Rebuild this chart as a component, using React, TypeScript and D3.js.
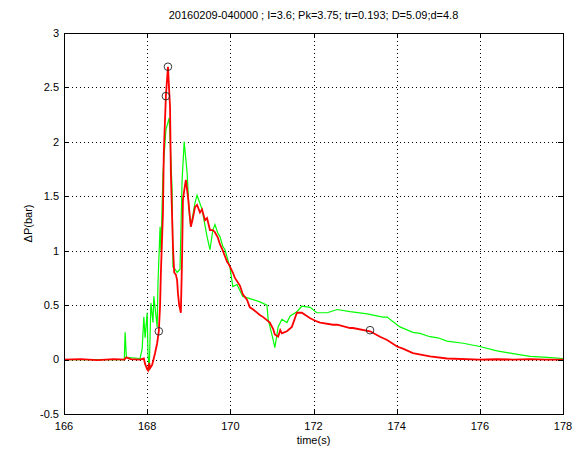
import { useEffect, useRef } from 'react';
import * as d3 from 'd3';

// time (s) and pressure difference (bar)
const greenTime = [
  166.0, 167.0, 167.45, 167.47, 167.5, 167.83, 167.88, 167.92, 167.95, 168.0, 168.02, 168.05,
  168.09, 168.14, 168.16, 168.24, 168.26, 168.31, 168.33, 168.38, 168.45, 168.53, 168.6, 168.62,
  168.67, 168.72, 168.79, 168.84, 168.89, 168.96, 169.01, 169.05, 169.15, 169.2, 169.32, 169.44,
  169.51, 169.58, 169.63, 169.7, 169.75, 169.82, 169.87, 169.99, 170.06, 170.16, 170.3, 170.47,
  170.71, 170.88, 170.91, 171.03, 171.07, 171.15, 171.24, 171.36, 171.44, 171.6, 171.72, 171.92,
  172.08, 172.33, 172.57, 172.88, 173.29, 173.67, 173.77, 174.08, 174.39, 174.56, 174.8, 174.99,
  175.21, 175.6, 176.0, 176.41, 176.8, 177.21, 177.62, 178.0,
];
const greenValue = [
  0, 0, 0, 0.25, 0.02, 0.01, 0.1, 0.39, 0.2, 0.43, 0.05, -0.1,
  0.52, 0.34, 0.58, 0.3, 0.7, 1.22, 1.0, 1.71, 2.11, 2.22, 1.56, 0.85,
  0.83, 0.8, 0.83, 1.65, 2.0, 1.72, 1.35, 1.22, 1.44, 1.51, 1.38, 1.13,
  1.01, 1.19, 1.24, 1.16, 1.13, 1.04, 1.01, 0.85, 0.67, 0.69, 0.58, 0.56,
  0.53, 0.5, 0.37, 0.18, 0.11, 0.3, 0.37, 0.34, 0.4, 0.44, 0.49, 0.48,
  0.43, 0.43, 0.46, 0.44, 0.42, 0.39, 0.39, 0.3, 0.25, 0.24, 0.21, 0.2,
  0.17, 0.15, 0.12, 0.08, 0.055, 0.03, 0.02, 0.01,
];

const redTime = [
  166.0, 166.4, 166.8, 167.2, 167.45, 167.5, 167.6, 167.83, 167.92, 167.95, 168.0, 168.02,
  168.05, 168.07, 168.12, 168.19, 168.24, 168.28, 168.31, 168.33, 168.38, 168.4, 168.45, 168.5,
  168.55, 168.57, 168.62, 168.65, 168.69, 168.72, 168.74, 168.77, 168.81, 168.84, 168.86, 168.89,
  168.93, 168.98, 169.05, 169.1, 169.15, 169.2, 169.27, 169.32, 169.39, 169.44, 169.51, 169.58,
  169.63, 169.7, 169.75, 169.82, 169.87, 169.92, 169.97, 170.06, 170.11, 170.23, 170.3, 170.4,
  170.47, 170.55, 170.71, 170.79, 170.95, 171.03, 171.07, 171.15, 171.2, 171.24, 171.36, 171.48,
  171.6, 171.72, 171.92, 172.08, 172.16, 172.47, 172.57, 172.88, 172.95, 173.36, 173.6, 173.77,
  174.01, 174.15, 174.39, 174.8, 175.21, 176.0, 176.4, 176.8, 177.2, 177.6, 178.0,
];
const redValue = [
  0, 0.005, -0.005, 0.005, 0, 0.02, 0.005, 0, 0.01, -0.04, -0.09, -0.1,
  -0.03, -0.08, -0.05, 0.06, 0.15, 0.26, 0.49, 0.8, 1.35, 1.9, 2.42, 2.69,
  2.32, 1.71, 1.04, 0.8, 0.78, 0.73, 0.61, 0.5, 0.43, 0.95, 1.47, 1.55,
  1.65, 1.5, 1.22, 1.3, 1.4, 1.42, 1.35, 1.38, 1.28, 1.3, 1.19, 1.19,
  1.17, 1.12, 1.06, 1.0, 0.95, 0.9, 0.87, 0.8, 0.75, 0.68, 0.6, 0.55,
  0.48, 0.46, 0.41, 0.39, 0.34, 0.28, 0.23, 0.21, 0.27, 0.24, 0.26, 0.3,
  0.43, 0.43, 0.38, 0.35, 0.34, 0.32, 0.32, 0.29, 0.29, 0.26, 0.21, 0.18,
  0.12, 0.1, 0.06, 0.03, 0.01, 0, 0.003, 0, 0.005, 0, 0,
];

// picked points drawn as open circles
const markerTime = [168.28, 168.45, 168.5, 173.36];
const markerValue = [0.26, 2.42, 2.69, 0.27];

const xTicks = [166, 168, 170, 172, 174, 176, 178];
const yTicks = [-0.5, 0, 0.5, 1, 1.5, 2, 2.5, 3];

const title = '20160209-040000 ; I=3.6; Pk=3.75; tr=0.193; D=5.09;d=4.8';

const App = () => {
  const ref = useRef<SVGSVGElement | null>(null);

  useEffect(() => {
    const svg = d3.select(ref.current);
    svg.selectAll('*').remove();

    const W = 579;
    const H = 450;
    const left = 64, right = 563, top = 33, bottom = 414;
    const font = 'Liberation Sans, Arial, sans-serif';

    svg.append('rect').attr('width', W).attr('height', H).attr('fill', '#fff');

    const x = d3.scaleLinear().domain([166, 178]).range([left, right]);
    const y = d3.scaleLinear().domain([-0.5, 3]).range([bottom, top]);

    const g = svg.append('g');

    // dotted grid
    g.selectAll('.gx')
      .data(xTicks.slice(1, -1))
      .enter()
      .append('line')
      .attr('x1', d => Math.round(x(d)) + 0.5)
      .attr('x2', d => Math.round(x(d)) + 0.5)
      .attr('y1', top)
      .attr('y2', bottom)
      .attr('stroke', '#000')
      .attr('stroke-dasharray', '1,3');
    g.selectAll('.gy')
      .data(yTicks.slice(1, -1))
      .enter()
      .append('line')
      .attr('x1', left)
      .attr('x2', right)
      .attr('y1', d => Math.round(y(d)) + 0.5)
      .attr('y2', d => Math.round(y(d)) + 0.5)
      .attr('stroke', '#000')
      .attr('stroke-dasharray', '1,3');

    const line = d3
      .line<[number, number]>()
      .x(d => x(d[0]))
      .y(d => y(d[1]));

    const greenData = greenTime.map((t, i) => [t, greenValue[i]] as [number, number]);
    const redData = redTime.map((t, i) => [t, redValue[i]] as [number, number]);

    g.append('path')
      .attr('d', line(greenData))
      .attr('fill', 'none')
      .attr('stroke', '#00ff00')
      .attr('stroke-width', 1.2);

    g.append('path')
      .attr('d', line(redData))
      .attr('fill', 'none')
      .attr('stroke', '#ff0000')
      .attr('stroke-width', 1.8);

    g.selectAll('.marker')
      .data(markerTime)
      .enter()
      .append('circle')
      .attr('cx', d => x(d))
      .attr('cy', (d, i) => y(markerValue[i]))
      .attr('r', 3.8)
      .attr('fill', 'none')
      .attr('stroke', '#222')
      .attr('stroke-width', 0.9);

    // box with inward ticks on all sides
    g.append('rect')
      .attr('x', left + 0.5)
      .attr('y', top + 0.5)
      .attr('width', right - left)
      .attr('height', bottom - top)
      .attr('fill', 'none')
      .attr('stroke', '#000');

    const tl = 5;
    xTicks.forEach(t => {
      const px = Math.round(x(t)) + 0.5;
      g.append('line').attr('x1', px).attr('x2', px).attr('y1', bottom).attr('y2', bottom - tl).attr('stroke', '#000');
      g.append('line').attr('x1', px).attr('x2', px).attr('y1', top).attr('y2', top + tl).attr('stroke', '#000');
    });
    yTicks.forEach(v => {
      const py = Math.round(y(v)) + 0.5;
      g.append('line').attr('x1', left).attr('x2', left + tl).attr('y1', py).attr('y2', py).attr('stroke', '#000');
      g.append('line').attr('x1', right).attr('x2', right - tl).attr('y1', py).attr('y2', py).attr('stroke', '#000');
    });

    g.selectAll('.xl')
      .data(xTicks)
      .enter()
      .append('text')
      .attr('x', d => x(d))
      .attr('y', bottom + 16)
      .attr('text-anchor', 'middle')
      .attr('font-family', font)
      .attr('font-size', 11)
      .attr('fill', '#000')
      .text(d => String(d));

    g.selectAll('.yl')
      .data(yTicks)
      .enter()
      .append('text')
      .attr('x', left - 5)
      .attr('y', d => y(d))
      .attr('dy', '0.35em')
      .attr('text-anchor', 'end')
      .attr('font-family', font)
      .attr('font-size', 11)
      .attr('fill', '#000')
      .text(d => String(d));

    svg.append('text')
      .attr('x', (left + right) / 2)
      .attr('y', 444)
      .attr('text-anchor', 'middle')
      .attr('font-family', font)
      .attr('font-size', 11)
      .attr('fill', '#000')
      .text('time(s)');

    svg.append('text')
      .attr('transform', `translate(32,${(top + bottom) / 2}) rotate(-90)`)
      .attr('text-anchor', 'middle')
      .attr('font-family', font)
      .attr('font-size', 11)
      .attr('fill', '#000')
      .text('\u0394P(bar)');

    svg.append('text')
      .attr('x', (left + right) / 2)
      .attr('y', 19)
      .attr('text-anchor', 'middle')
      .attr('font-family', font)
      .attr('font-size', 11)
      .attr('fill', '#000')
      .text(title);
  }, []);

  return (
    <svg
      ref={ref}
      width={579}
      height={450}
      style={{ position: 'absolute', left: 0, top: 0, display: 'block' }}
    />
  );
};

export default App;
